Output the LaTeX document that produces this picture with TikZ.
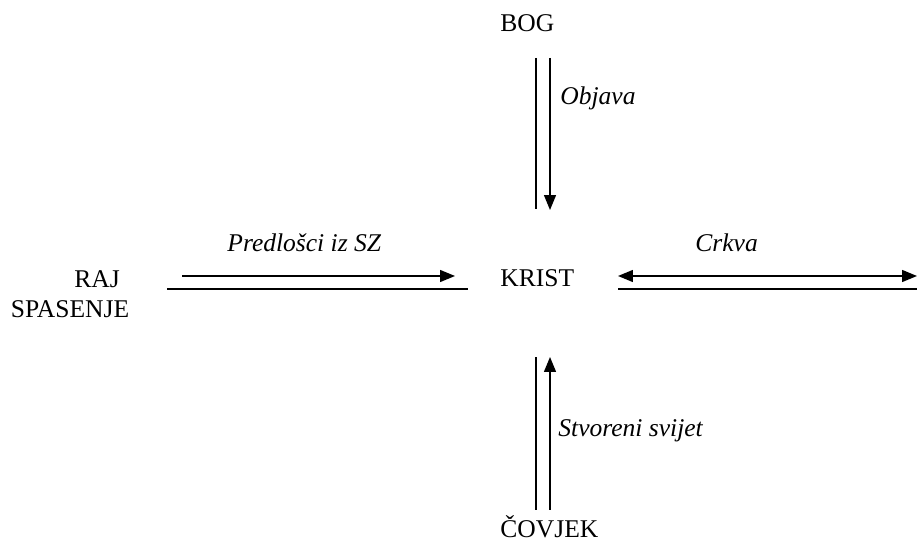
\documentclass[tikz,border=0pt]{standalone}
\usepackage{fontspec}
\setmainfont{Liberation Serif}
\usetikzlibrary{arrows.meta, positioning}

\begin{document}
\begin{tikzpicture}
  [
    x=0.47pt, y=-0.47pt,
    Word/.style={inner sep=0pt, anchor=base west, font=\fontsize{12}{14}\selectfont},
    Label/.style={inner sep=0pt, anchor=base west, font=\fontsize{12}{14}\selectfont\itshape},
    Plain/.style={line width=0.65pt},
    Head/.style={line width=0.65pt, -{Triangle[width=5.6pt, length=7pt]}},
    Both/.style={line width=0.65pt, {Triangle[width=5.6pt, length=7pt]}-{Triangle[width=5.6pt, length=7pt]}}
  ]
  \useasboundingbox (0,0) rectangle (917,545);
  % Nodes
  \node[Word] (bog) at (500,32) {BOG};
  \node[Word] (krist) at (500,287) {KRIST};
  \node[Word] (covjek) at (500,538) {ČOVJEK};
  \node[Word, anchor=base] (raj) at (97,288) {RAJ};
  \node[Word, anchor=base] (spasenje) at (70,318) {SPASENJE};

  % Labels
  \node[Label] (objava) at (560,105) {Objava};
  \node[Label] (predlosci) at (227,252) {Predlošci iz SZ};
  \node[Label] (crkva) at (695,252) {Crkva};
  \node[Label] (svijet) at (558,437) {Stvoreni svijet};

  % Line ends
  \coordinate (topL) at (536,58);
  \coordinate (topR) at (550,58);
  \coordinate (topLend) at (536,209);
  \coordinate (topRend) at (550,210);
  \coordinate (botL) at (536,510);
  \coordinate (botR) at (550,510);
  \coordinate (botLend) at (536,357);
  \coordinate (botRend) at (550,357);
  \coordinate (leftU) at (182,276);
  \coordinate (leftUend) at (455,276);
  \coordinate (leftD) at (167,289);
  \coordinate (leftDend) at (468,289);
  \coordinate (rightU) at (618,276);
  \coordinate (rightUend) at (917,276);
  \coordinate (rightD) at (618,289);
  \coordinate (rightDend) at (917,289);

  % Connectors
  \draw[Plain] (topL) -- (topLend);
  \draw[Head] (topR) -- (topRend);
  \draw[Plain] (botL) -- (botLend);
  \draw[Head] (botR) -- (botRend);
  \draw[Head] (leftU) -- (leftUend);
  \draw[Plain] (leftD) -- (leftDend);
  \draw[Both] (rightU) -- (rightUend);
  \draw[Plain] (rightD) -- (rightDend);
\end{tikzpicture}
\end{document}
